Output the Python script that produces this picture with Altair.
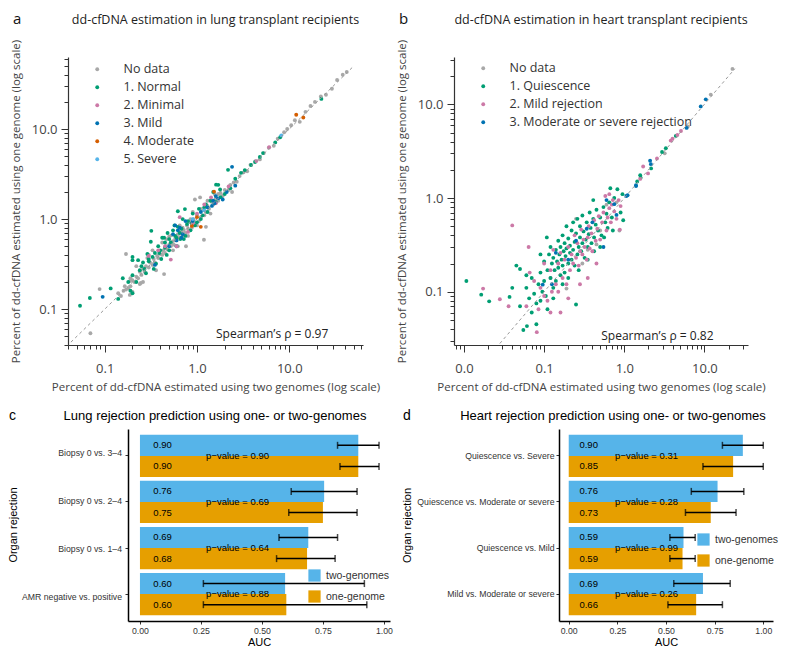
import altair as alt
import pandas as pd

# ---------------- Panel a: lung scatter (x = two genomes, y = one genome) ----------------
lung_nodata_x = [42, 38, 33, 29, 25, 22, 19, 17, 15, 13, 11.5, 10.5, 9.5, 8.8, 7.5, 6.8, 6, 5.3, 4.8, 4.3, 3.8, 3.5, 3.2, 2.9, 2.7, 2.5, 2.3, 2.2, 2, 1.9, 1.8, 1.7, 1.6, 1.5, 1.45, 1.35, 1.3, 1.25, 1.2, 1.15, 1.1, 1.05, 1, 0.95, 0.92, 0.88, 0.85, 0.8, 0.78, 0.75, 0.72, 0.7, 0.68, 0.65, 0.62, 0.6, 0.58, 0.56, 0.55, 0.52, 0.5, 0.48, 0.46, 0.45, 0.43, 0.42, 0.4, 0.38, 0.37, 0.35, 0.34, 0.33, 0.31, 0.3, 0.28, 0.27, 0.26, 0.25, 0.24, 0.23, 0.22, 0.21, 0.2, 0.19, 0.18, 0.17, 0.16, 0.15, 0.14, 0.17, 0.07, 0.95, 1.08, 1.19, 0.76, 1.25, 0.44, 0.3, 0.42, 0.55, 0.65, 0.9, 1.4, 2.4, 0.36, 0.5, 0.2, 0.26, 0.62, 0.8, 0.22, 0.29, 0.33, 0.47, 0.53, 0.7, 0.85, 1.0, 1.1, 1.3, 1.55, 1.7, 0.24, 0.19, 0.165, 0.187, 0.088, 0.187, 0.246]
lung_nodata_y = [43, 40, 35, 28, 24, 23, 20, 18, 15.5, 12, 12.5, 11, 10, 9.2, 7.8, 6.5, 6.2, 5.4, 4.6, 4.4, 4, 3.4, 3.3, 3, 2.6, 2.55, 2.4, 2.1, 2.1, 1.8, 1.95, 1.6, 1.7, 1.45, 1.55, 1.3, 1.4, 1.2, 1.1, 1.25, 1.05, 0.95, 1.1, 0.9, 1.0, 0.8, 0.92, 0.78, 0.85, 0.7, 0.76, 0.66, 0.72, 0.62, 0.68, 0.58, 0.6, 0.52, 0.57, 0.5, 0.52, 0.46, 0.5, 0.42, 0.45, 0.4, 0.41, 0.37, 0.39, 0.33, 0.36, 0.31, 0.33, 0.29, 0.3, 0.26, 0.28, 0.24, 0.26, 0.22, 0.23, 0.2, 0.21, 0.18, 0.17, 0.165, 0.16, 0.14, 0.15, 0.41, 0.054, 1.65, 1.74, 0.59, 0.5, 0.82, 0.245, 0.4, 0.55, 0.45, 0.85, 1.2, 1.15, 2.0, 0.27, 0.64, 0.155, 0.2, 0.5, 0.65, 0.3, 0.37, 0.45, 0.6, 0.66, 0.8, 1.0, 0.85, 1.3, 1.6, 1.9, 1.9, 0.19, 0.22, 0.18, 0.205, 0.167, 0.144, 0.195]
lung_normal_x = [0.054, 0.069, 0.116, 0.2, 0.157, 0.19, 0.2, 0.27, 0.3, 0.316, 0.2, 0.25, 0.35, 0.38, 0.4, 0.42, 0.45, 0.48, 0.5, 0.5, 0.55, 0.58, 0.6, 0.62, 0.65, 0.62, 0.74, 0.75, 0.8, 0.85, 0.9, 0.95, 1.05, 1.1, 1.2, 1.3, 1.78, 1.5, 1.4, 1.7, 2.0, 1.61, 2.17, 5.2, 4.8, 4.26, 3.86, 3.3, 3.0, 7.05, 7.98, 22.3, 0.3, 0.28, 0.33, 0.36, 0.39, 0.24, 0.22, 0.45, 0.47, 0.52, 0.6, 0.68, 0.72, 0.78, 1.0, 1.15, 1.25, 1.6, 1.8, 2.3, 2.6, 0.18, 0.14, 0.23, 0.26, 0.34, 0.41, 0.44, 0.57, 0.66, 0.88, 0.7, 0.32, 0.29, 0.2]
lung_normal_y = [0.109, 0.133, 0.17, 0.238, 0.22, 0.16, 0.15, 0.28, 0.36, 0.56, 0.38, 0.3, 0.42, 0.5, 0.45, 0.62, 0.55, 0.7, 0.6, 0.45, 0.75, 0.65, 0.5, 0.82, 0.7, 1.22, 1.29, 0.65, 0.95, 0.75, 1.15, 0.85, 1.3, 1.0, 1.35, 1.2, 2.13, 2.0, 1.6, 2.4, 1.9, 2.41, 3.52, 5.4, 4.9, 4.3, 3.99, 3.5, 3.26, 7.1, 8.1, 21.6, 0.34, 0.25, 0.38, 0.32, 0.42, 0.27, 0.2, 0.48, 0.4, 0.55, 0.62, 0.78, 0.6, 0.88, 0.92, 1.1, 1.45, 1.55, 1.75, 2.2, 2.8, 0.2, 0.13, 0.35, 0.33, 0.28, 0.36, 0.62, 0.85, 0.6, 0.9, 1.0, 0.74, 0.41, 0.35]
lung_minimal_x = [0.3, 0.52, 0.65, 0.6, 0.9, 1.2, 1.42, 4.4, 6.06, 1.0, 0.45, 1.6, 0.8, 2.2, 0.38]
lung_minimal_y = [0.39, 0.355, 1.05, 0.5, 0.9, 1.45, 1.74, 4.4, 6.28, 1.15, 0.5, 1.5, 0.72, 2.3, 0.45]
lung_mild_x = [0.095, 0.35, 0.5, 0.55, 0.6, 0.65, 0.7, 0.75, 0.62, 1.1, 1.3, 1.5, 1.45, 1.55, 1.7, 1.9, 2.1, 2.4, 1.6, 0.9, 0.58, 0.68, 2.6]
lung_mild_y = [0.137, 0.31, 0.5, 0.68, 0.58, 0.8, 0.68, 0.95, 0.75, 1.2, 1.35, 1.6, 1.4, 1.5, 1.7, 1.65, 2.0, 3.8, 1.8, 0.95, 0.85, 0.62, 2.35]
lung_moderate_x = [11.9, 14.2, 1.53, 1.0, 0.88, 1.1]
lung_moderate_y = [14.4, 13.4, 2.02, 1.05, 0.84, 0.82]
lung_severe_x = [8.2, 1.2, 0.9]
lung_severe_y = [8.5, 1.25, 1.0]
lung_cats = ["No data", "1. Normal", "2. Minimal", "3. Mild", "4. Moderate", "5. Severe"]

# ---------------- Panel b: heart scatter ----------------
heart_nodata_x = [22.4, 12, 3.2, 6.2, 0.35, 0.5, 0.8, 0.19, 0.25, 0.3, 0.12, 0.45, 0.6, 0.15, 0.87]
heart_nodata_y = [23.9, 12.7, 3.0, 5.8, 0.28, 0.45, 0.9, 0.108, 0.6, 0.2, 0.14, 0.32, 0.85, 0.2, 0.45]
heart_q_x = [0.0107, 0.0164, 0.0206, 0.037, 0.045, 0.05, 0.055, 0.061, 0.06, 0.065, 0.07, 0.075, 0.08, 0.085, 0.09, 0.09, 0.095, 0.1, 0.1, 0.105, 0.108, 0.11, 0.115, 0.12, 0.12, 0.125, 0.13, 0.13, 0.135, 0.14, 0.14, 0.145, 0.15, 0.15, 0.155, 0.16, 0.16, 0.165, 0.17, 0.17, 0.175, 0.18, 0.18, 0.185, 0.19, 0.19, 0.2, 0.2, 0.21, 0.21, 0.22, 0.22, 0.23, 0.23, 0.24, 0.24, 0.25, 0.25, 0.26, 0.26, 0.27, 0.28, 0.28, 0.29, 0.3, 0.3, 0.31, 0.32, 0.33, 0.34, 0.35, 0.36, 0.37, 0.38, 0.39, 0.41, 0.41, 0.42, 0.44, 0.45, 0.47, 0.5, 0.52, 0.55, 0.58, 0.6, 0.62, 0.65, 0.67, 0.7, 0.75, 0.82, 0.9, 0.95, 1.45, 1.58, 1.6, 2.16, 2.96, 3.3, 4.4, 0.07, 0.08, 0.11, 0.13, 0.17, 0.2, 0.27, 0.35, 0.42, 0.5, 0.56, 0.72, 0.04, 0.05, 0.09, 0.06, 0.97]
heart_q_y = [0.13, 0.093, 0.079, 0.088, 0.19, 0.175, 0.039, 0.043, 0.11, 0.085, 0.14, 0.095, 0.075, 0.12, 0.16, 0.08, 0.1, 0.21, 0.13, 0.09, 0.38, 0.17, 0.25, 0.14, 0.3, 0.2, 0.11, 0.23, 0.17, 0.28, 0.13, 0.21, 0.35, 0.18, 0.25, 0.15, 0.3, 0.22, 0.4, 0.19, 0.27, 0.33, 0.16, 0.24, 0.5, 0.29, 0.2, 0.37, 0.26, 0.31, 0.45, 0.22, 0.55, 0.28, 0.34, 0.19, 0.073, 0.42, 0.25, 0.6, 0.3, 0.38, 0.5, 0.27, 0.33, 0.65, 0.44, 0.23, 0.36, 0.55, 0.3, 0.41, 0.7, 0.48, 0.33, 0.95, 0.6, 0.38, 0.52, 0.75, 0.45, 0.62, 0.4, 0.8, 0.55, 0.68, 0.48, 0.9, 1.27, 0.62, 1.0, 1.24, 0.7, 1.1, 1.5, 1.75, 1.65, 2.07, 3.1, 3.4, 4.6, 0.06, 0.045, 0.065, 0.085, 0.12, 0.14, 0.17, 0.22, 0.27, 0.3, 0.38, 0.45, 0.11, 0.07, 0.25, 0.15, 0.58]
heart_mild_x = [0.0173, 0.028, 0.036, 0.04, 0.06, 0.075, 0.081, 0.085, 0.09, 0.1, 0.11, 0.12, 0.125, 0.13, 0.14, 0.15, 0.15, 0.16, 0.17, 0.18, 0.19, 0.2, 0.21, 0.22, 0.23, 0.24, 0.25, 0.26, 0.27, 0.28, 0.29, 0.3, 0.31, 0.32, 0.34, 0.35, 0.36, 0.37, 0.39, 0.4, 0.42, 0.44, 0.46, 0.48, 0.5, 0.53, 0.55, 0.58, 0.6, 0.62, 0.65, 0.68, 0.7, 0.75, 0.8, 0.85, 0.9, 0.35, 0.2, 0.16, 0.45, 1.72, 1.98, 1.58, 2.56, 3.8, 4.0, 5.1, 4.6, 0.12, 0.28, 0.88, 0.066, 0.1, 0.65, 0.72, 0.064]
heart_mild_y = [0.108, 0.083, 0.07, 0.51, 0.07, 0.13, 0.037, 0.065, 0.11, 0.09, 0.08, 0.17, 0.1, 0.28, 0.12, 0.2, 0.1, 0.26, 0.14, 0.22, 0.12, 0.3, 0.17, 0.25, 0.2, 0.4, 0.23, 0.33, 0.19, 0.27, 0.46, 0.25, 0.36, 0.3, 0.22, 0.38, 0.5, 0.29, 0.42, 0.27, 0.58, 0.35, 0.47, 0.64, 0.36, 0.55, 0.7, 1.05, 0.45, 0.62, 0.78, 0.55, 0.85, 0.72, 0.6, 0.95, 0.82, 0.14, 0.085, 0.06, 0.2, 2.17, 1.83, 1.6, 2.64, 4.1, 4.3, 5.2, 4.7, 0.06, 0.12, 0.46, 0.16, 0.2, 1.1, 0.95, 0.3]
heart_mod_x = [10.4, 9.0, 6.0, 2.1, 2.15, 1.4, 1.06, 1.1, 1.4, 0.14, 0.125, 0.096, 0.55, 0.34, 0.8, 0.75, 0.2, 0.4, 0.25, 0.6]
heart_mod_y = [11.3, 9.5, 5.6, 2.5, 2.3, 1.37, 1.05, 1.07, 1.34, 0.26, 0.12, 0.119, 0.3, 0.47, 0.66, 0.86, 0.22, 0.55, 0.35, 0.95]
heart_cats = ["No data", "1. Quiescence", "2. Mild rejection", "3. Moderate or severe rejection"]

# ---------------- Panels c/d: AUC bars ----------------
series_names = ["two-genomes", "one-genome"]
lung_bar_cats = ["Biopsy 0 vs. 3\u20134", "Biopsy 0 vs. 2\u20134", "Biopsy 0 vs. 1\u20134", "AMR negative vs. positive"]
lung_two_auc = [0.895, 0.755, 0.69, 0.595]
lung_one_auc = [0.895, 0.75, 0.685, 0.60]
lung_two_lbl = ["0.90", "0.76", "0.69", "0.60"]
lung_one_lbl = ["0.90", "0.75", "0.68", "0.60"]
lung_two_lo = [0.81, 0.62, 0.57, 0.26]
lung_two_hi = [0.98, 0.89, 0.81, 0.92]
lung_one_lo = [0.82, 0.61, 0.56, 0.26]
lung_one_hi = [0.98, 0.89, 0.80, 0.93]
lung_pvals = ["0.90", "0.69", "0.64", "0.88"]

heart_bar_cats = ["Quiescence vs. Severe", "Quiescence vs. Moderate or severe", "Quiescence vs. Mild", "Mild vs. Moderate or severe"]
heart_two_auc = [0.895, 0.765, 0.59, 0.69]
heart_one_auc = [0.845, 0.73, 0.585, 0.655]
heart_two_lbl = ["0.90", "0.76", "0.59", "0.69"]
heart_one_lbl = ["0.85", "0.73", "0.59", "0.66"]
heart_two_lo = [0.79, 0.63, 0.52, 0.54]
heart_two_hi = [1.0, 0.90, 0.65, 0.83]
heart_one_lo = [0.69, 0.60, 0.52, 0.51]
heart_one_hi = [1.0, 0.86, 0.65, 0.79]
heart_pvals = ["0.31", "0.28", "0.99", "0.26"]

TOPFONT = "Open Sans"
BOTFONT = "Liberation Sans"
GREY = "#a8a8a8"
ONE = pd.DataFrame({"d": [0]})
BAR_H = 192
YSC = dict(paddingInner=0.083, paddingOuter=0.125)


def scatter_df(groups):
    rows = []
    for cat, xs, ys in groups:
        for x, y in zip(xs, ys):
            rows.append({"x": x, "y": y, "cat": cat})
    return pd.DataFrame(rows)


def minor_vals(lo, hi):
    out = []
    for dec in [0.001, 0.01, 0.1, 1, 10, 100]:
        for m in range(2, 10):
            v = round(m * dec, 6)
            if lo <= v <= hi:
                out.append(v)
    return out


def scatter_panel(df, cats, colors, xdom, ydom, xmajor, ymajor, diag, rho, rho_pos,
                  title, letter, w, h, legx, legy):
    xs = alt.Scale(type="log", domain=xdom, nice=False)
    ys = alt.Scale(type="log", domain=ydom, nice=False)
    common = dict(grid=False, domainColor="#333", domainWidth=1.2, tickColor="#333",
                  tickWidth=1, labelFont=TOPFONT, titleFont=TOPFONT, labelColor="#444",
                  titleColor="#444", labelFontSize=13, titleFontSize=11.5,
                  titleFontWeight="normal")
    ax_x = alt.Axis(values=xmajor, format=".1f", orient="bottom", tickSize=7,
                    labelPadding=10, titlePadding=6,
                    title="Percent of dd-cfDNA estimated using two genomes (log scale)", **common)
    ax_y = alt.Axis(values=ymajor, format=".1f", orient="left", tickSize=7,
                    labelPadding=4, titlePadding=10,
                    title="Percent of dd-cfDNA estimated using one genome (log scale)", **common)
    mx = alt.Axis(values=minor_vals(*xdom), labels=False, title=None, orient="bottom",
                  grid=False, domain=False, tickSize=4, tickColor="#333", tickWidth=1)
    my = alt.Axis(values=minor_vals(*ydom), labels=False, title=None, orient="left",
                  grid=False, domain=False, tickSize=4, tickColor="#333", tickWidth=1)
    pts = alt.Chart(df).mark_circle(size=15, opacity=1).encode(
        x=alt.X("x:Q", scale=xs, axis=ax_x),
        y=alt.Y("y:Q", scale=ys, axis=ax_y),
        color=alt.Color("cat:N", scale=alt.Scale(domain=cats, range=colors),
                        legend=alt.Legend(title=None, orient="none", legendX=legx, legendY=legy,
                                          symbolType="circle", symbolSize=15, symbolStrokeWidth=0,
                                          labelFont=TOPFONT, labelFontSize=12.5, labelColor="#333",
                                          labelLimit=400, rowPadding=5, labelOffset=20, padding=0)),
    )
    ddf = pd.DataFrame({"x": diag, "y": diag})
    line = alt.Chart(ddf).mark_line(strokeDash=[3, 3], color="#999", strokeWidth=1).encode(
        x=alt.X("x:Q", scale=xs, axis=mx), y=alt.Y("y:Q", scale=ys, axis=my))
    rdf = pd.DataFrame({"x": [rho_pos[0]], "y": [rho_pos[1]], "t": [rho]})
    rtxt = alt.Chart(rdf).mark_text(align="right", baseline="middle", font=TOPFONT,
                                    fontSize=12, color="#222").encode(
        x=alt.X("x:Q", scale=xs, axis=None), y=alt.Y("y:Q", scale=ys, axis=None), text="t:N")
    ttl = alt.Chart(ONE).mark_text(text=title, align="center", baseline="alphabetic", font=TOPFONT,
                                   fontSize=12.5, color="#222").encode(
        x=alt.value(w / 2), y=alt.value(-33))
    let = alt.Chart(ONE).mark_text(text=letter, align="left", baseline="alphabetic", font=TOPFONT,
                                   fontSize=15, color="#111").encode(
        x=alt.value(-55), y=alt.value(-33))
    return alt.layer(pts, line, rtxt, ttl, let).resolve_axis(
        x="independent", y="independent").properties(width=w, height=h)


def label_column(cats, w):
    """Row labels and 'Organ rejection' title of panel c, drawn on the same band scale."""
    df = pd.DataFrame({"cat": cats})
    txt = alt.Chart(df).mark_text(align="right", baseline="middle", font=BOTFONT, fontSize=8.7,
                                  color="#333").encode(
        x=alt.value(w - 2), y=alt.Y("cat:N", sort=cats, scale=alt.Scale(**YSC), axis=None),
        text="cat:N")
    ttl = alt.Chart(ONE).mark_text(text="Organ rejection", angle=270, align="center",
                                   baseline="middle", font=BOTFONT, fontSize=11,
                                   color="black").encode(x=alt.value(-54), y=alt.value(BAR_H / 2))
    return alt.layer(txt, ttl).properties(width=w, height=BAR_H)


def title_row(items, w, h, base):
    layers = []
    for text, x, size, align in items:
        layers.append(alt.Chart(ONE).mark_text(text=text, align=align, baseline="alphabetic",
                                               font=BOTFONT, fontSize=size, color="black").encode(
            x=alt.value(x), y=alt.value(base)))
    return alt.layer(*layers).properties(width=w, height=h)


def bar_panel(cats, two_auc, one_auc, two_lbl, one_lbl, two_lo, two_hi, one_lo, one_hi,
              pvals, w, xdom, legx, legy, own_labels):
    rows = []
    for i, c in enumerate(cats):
        rows.append({"cat": c, "series": series_names[0], "auc": two_auc[i], "lbl": two_lbl[i],
                     "lo": two_lo[i], "hi": two_hi[i]})
        rows.append({"cat": c, "series": series_names[1], "auc": one_auc[i], "lbl": one_lbl[i],
                     "lo": one_lo[i], "hi": one_hi[i]})
    df = pd.DataFrame(rows)
    pdf = pd.DataFrame({"cat": cats, "p": ["p\u2212value = " + p for p in pvals]})
    xs = alt.Scale(domain=xdom, nice=False, zero=False)
    ysc = alt.Scale(**YSC)
    ax_x = alt.Axis(values=[0, 0.25, 0.5, 0.75, 1.0], format=".2f", title="AUC", grid=False,
                    tickSize=3, labelPadding=2, titlePadding=2, domainColor="black",
                    domainWidth=1.5, tickColor="#333", labelColor="#333", titleColor="black",
                    labelFont=BOTFONT, titleFont=BOTFONT, labelFontSize=8.7, titleFontSize=11,
                    titleFontWeight="normal")
    if own_labels:
        ax_y = alt.Axis(title="Organ rejection", grid=False, tickSize=3, labelPadding=2,
                        titlePadding=4, domainColor="black", domainWidth=1.5, tickColor="#333",
                        labelColor="#333", titleColor="black", labelFont=BOTFONT,
                        titleFont=BOTFONT, labelFontSize=8.7, titleFontSize=11,
                        titleFontWeight="normal", labelLimit=300)
        ytitle = "Organ rejection"
    else:
        ax_y = alt.Axis(title=None, labels=False, grid=False, tickSize=3, domainColor="black",
                        domainWidth=1.5, tickColor="#333")
        ytitle = None
    X = lambda f: alt.X(f, scale=xs, axis=ax_x, title="AUC")
    Y = alt.Y("cat:N", sort=cats, scale=ysc, axis=ax_y, title=ytitle)
    YO = alt.YOffset("series:N", sort=series_names, scale=alt.Scale(paddingInner=0, paddingOuter=0))
    bars = alt.Chart(df).mark_bar().encode(
        x=X("auc:Q"), y=Y, yOffset=YO,
        color=alt.Color("series:N", scale=alt.Scale(domain=series_names, range=["#56B4E9", "#E69F00"]),
                        legend=alt.Legend(title=None, orient="none", legendX=legx, legendY=legy,
                                          symbolType="square", symbolSize=150, symbolStrokeWidth=0,
                                          labelFont=BOTFONT, labelFontSize=10.5, labelColor="#333",
                                          rowPadding=8, labelOffset=5, padding=0)))
    err = alt.Chart(df).mark_rule(color="black", strokeWidth=1.5).encode(
        x=X("lo:Q"), x2="hi:Q", y=Y, yOffset=YO)
    cap_lo = alt.Chart(df).mark_tick(color="black", thickness=1.5, size=7).encode(
        x=X("lo:Q"), y=Y, yOffset=YO)
    cap_hi = alt.Chart(df).mark_tick(color="black", thickness=1.5, size=7).encode(
        x=X("hi:Q"), y=Y, yOffset=YO)
    vl = alt.Chart(df).mark_text(align="left", baseline="middle", font=BOTFONT, fontSize=9.5,
                                 color="black").encode(
        x=alt.X(datum=0.055, scale=xs, axis=ax_x, title="AUC"), y=Y, yOffset=YO, text="lbl:N")
    pv = alt.Chart(pdf).mark_text(align="center", baseline="middle", font=BOTFONT, fontSize=9.5,
                                  color="black").encode(
        x=alt.X(datum=0.40, scale=xs, axis=ax_x, title="AUC"), y=Y, text="p:N")
    return alt.layer(bars, err, cap_lo, cap_hi, vl, pv).properties(width=w, height=BAR_H)


lung_df = scatter_df([
    ("No data", lung_nodata_x, lung_nodata_y),
    ("1. Normal", lung_normal_x, lung_normal_y),
    ("2. Minimal", lung_minimal_x, lung_minimal_y),
    ("3. Mild", lung_mild_x, lung_mild_y),
    ("4. Moderate", lung_moderate_x, lung_moderate_y),
    ("5. Severe", lung_severe_x, lung_severe_y),
])
heart_df = scatter_df([
    ("No data", heart_nodata_x, heart_nodata_y),
    ("1. Quiescence", heart_q_x, heart_q_y),
    ("2. Mild rejection", heart_mild_x, heart_mild_y),
    ("3. Moderate or severe rejection", heart_mod_x, heart_mod_y),
])

pa = scatter_panel(lung_df, lung_cats, [GREY, "#009E73", "#CC79A7", "#0072B2", "#D55E00", "#56B4E9"],
                   [0.04, 63], [0.04, 63], [0.1, 1, 10], [0.1, 1, 10], [0.043, 50],
                   "Spearman\u2019s \u03c1 = 0.97", [26.5, 0.053],
                   "dd-cfDNA estimation in lung transplant recipients", "a", 295, 288, 23, 6)
pb = scatter_panel(heart_df, heart_cats, [GREY, "#009E73", "#CC79A7", "#0072B2"],
                   [0.0075, 35], [0.027, 32], [0.01, 0.1, 1, 10], [0.1, 1, 10], [0.028, 24],
                   "Spearman\u2019s \u03c1 = 0.82", [13.0, 0.034],
                   "dd-cfDNA estimation in heart transplant recipients", "b", 294, 288, 23, 5)

titles = title_row([
    ("c", -59, 14, "left"),
    ("Lung rejection prediction using one- or two-genomes", 147, 13, "center"),
    ("d", 335, 14, "left"),
    ("Heart rejection prediction using one- or two-genomes", 545, 13, "center"),
], 700, 24, 21)
pc_lab = label_column(lung_bar_cats, 56)
pc = bar_panel(lung_bar_cats, lung_two_auc, lung_one_auc, lung_two_lbl, lung_one_lbl,
               lung_two_lo, lung_two_hi, lung_one_lo, lung_one_hi, lung_pvals, 262,
               [-0.049, 1.025], 180, 140, False)
pd_ = bar_panel(heart_bar_cats, heart_two_auc, heart_one_auc, heart_two_lbl, heart_one_lbl,
                heart_two_lo, heart_two_hi, heart_one_lo, heart_one_hi, heart_pvals, 214,
                [-0.05, 1.05], 138, 104, True)

row1 = (alt.hconcat(pa, pb, spacing=16)
        .resolve_scale(color="independent").resolve_legend(color="independent"))
left2 = (alt.hconcat(pc_lab, pc, spacing=0)
         .resolve_scale(color="independent", y="independent").resolve_legend(color="independent"))
row2 = (alt.hconcat(left2, pd_, spacing=8)
        .resolve_scale(color="independent", y="independent").resolve_legend(color="independent"))
chart = (alt.vconcat(row1, titles, row2, spacing=6)
         .resolve_scale(color="independent").resolve_legend(color="independent")
         .properties(padding={"left": 0, "top": 4, "right": 0, "bottom": 0})
         .configure_view(stroke=None))

chart.save("out.html", embed_options={"renderer": "svg", "actions": False})
